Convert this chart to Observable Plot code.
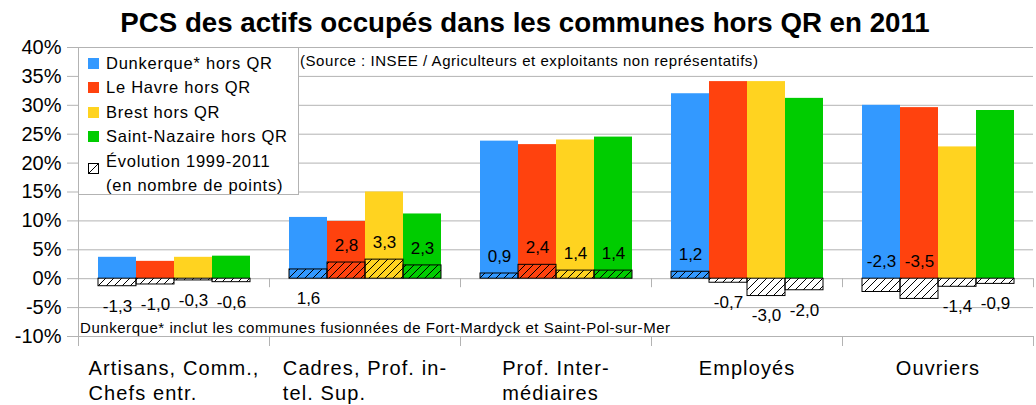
<!DOCTYPE html>
<html><head><meta charset="utf-8">
<script src="https://cdn.jsdelivr.net/npm/d3@7"></script>
<script src="https://cdn.jsdelivr.net/npm/@observablehq/plot@0.6"></script>
<style>
body{margin:0;background:#fff;font-family:"Liberation Sans",Arial,sans-serif;}
#wrap{position:relative;width:1036px;height:405px;overflow:hidden;}
#legend{position:absolute;left:78px;top:47px;width:221px;height:148px;background:#fff;border:1px solid #b3b3b3;box-sizing:border-box;font-size:16.5px;letter-spacing:0.75px;color:#000;}
#legend .row{position:absolute;left:0;height:24px;line-height:24px;white-space:nowrap;}
#legend .sw{position:absolute;left:9px;top:7px;width:11px;height:11px;}
#legend .lb{position:absolute;left:27px;top:0;}
</style>
</head><body>
<svg width="0" height="0" style="position:absolute">
  <defs>
    <pattern id="hatch" patternUnits="userSpaceOnUse" width="8" height="8">
      <path d="M-2,2 L2,-2 M0,8 L8,0 M6,10 L10,6" stroke="#000" stroke-width="1"/>
    </pattern>
  </defs>
</svg>
<div id="wrap"><div id="legend"></div></div>
<script>
// ---- data ----
const categories = ["Artisans, Comm., Chefs entr.", "Cadres, Prof. intel. Sup.", "Prof. Intermédiaires", "Employés", "Ouvriers"];
const categoryLines = [["Artisans, Comm.,", "Chefs entr."], ["Cadres, Prof. in-", "tel. Sup."], ["Prof. Inter-", "médiaires"], ["Employés"], ["Ouvriers"]];
const series = ["Dunkerque* hors QR", "Le Havre hors QR", "Brest hors QR", "Saint-Nazaire hors QR"];
const colors = ["#3399ff", "#ff420e", "#ffd320", "#00cc00"];
// share of employed (%) 2011
const dunkerque    = [3.7, 10.6, 23.8, 32.0, 30.0];
const leHavre      = [3.0,  9.9, 23.2, 34.1, 29.6];
const brest        = [3.7, 15.0, 24.0, 34.1, 22.8];
const saintNazaire = [3.9, 11.2, 24.5, 31.2, 29.1];
// evolution 1999-2011 (points)
const evoDunkerque    = [-1.3, 1.6, 0.9,  1.2, -2.3];
const evoLeHavre      = [-1.0, 2.8, 2.4, -0.7, -3.5];
const evoBrest        = [-0.3, 3.3, 1.4, -3.0, -1.4];
const evoSaintNazaire = [-0.6, 2.3, 1.4, -2.0, -0.9];
// labels drawn on the opposite side of the axis (as in the source chart)
const labelOpposite = [["Cadres, Prof. intel. Sup.", "Dunkerque* hors QR"], ["Ouvriers", "Dunkerque* hors QR"], ["Ouvriers", "Le Havre hors QR"]];
const yTicks = [-10, -5, 0, 5, 10, 15, 20, 25, 30, 35, 40];
const title = "PCS des actifs occupés dans les communes hors QR en 2011";
const source = "(Source : INSEE / Agriculteurs et exploitants non représentatifs)";
const footnote = "Dunkerque* inclut les communes fusionnées de Fort-Mardyck et Saint-Pol-sur-Mer";
const legendExtra = ["Évolution 1999-2011", "(en nombre de points)"];

// ---- table ----
const values = [dunkerque, leHavre, brest, saintNazaire];
const evos = [evoDunkerque, evoLeHavre, evoBrest, evoSaintNazaire];
const rows = [];
categories.forEach((c, i) => series.forEach((s, j) => {
  const flip = labelOpposite.some(([a, b]) => a === c && b === s);
  rows.push({cat: c, series: s, value: values[j][i], evo: evos[j][i], flip});
}));
const fmt = v => v.toFixed(1).replace(".", ",");
const isAbove = d => (d.evo > 0) !== d.flip;

const catLS = 1.1;
const ctx = document.createElement("canvas").getContext("2d");
ctx.font = "20px 'Liberation Sans'";
const labelMarks = categories.map((c, i) => {
  const w = d3.max(categoryLines[i], t => ctx.measureText(t).width + t.length * catLS);
  return Plot.text([c], {fx: d => d, text: () => categoryLines[i].join("\n"), frameAnchor: "bottom",
    textAnchor: "start", lineAnchor: "top", dx: -w / 2, dy: 21, fontSize: 20, lineHeight: 1.25, fill: "#000",
    className: "catlab"});
});

const plot = Plot.plot({
  width: 1036, height: 405,
  marginLeft: 78, marginRight: 3, marginTop: 47, marginBottom: 69,
  style: {fontFamily: "'Liberation Sans', Arial, sans-serif", fontSize: "17px", background: "transparent", overflow: "visible"},
  fx: {domain: categories, padding: 0, axis: null},
  x: {domain: series, paddingInner: 0, paddingOuter: 0.5, axis: null},
  y: {domain: [-10, 40], axis: null},
  color: {domain: series, range: colors},
  marks: [
    Plot.gridY(yTicks, {stroke: "#b3b3b3", strokeOpacity: 1}),
    Plot.axisY(yTicks, {tickSize: 11, text: null, stroke: "#b3b3b3", strokeOpacity: 1}),
    Plot.axisY(yTicks, {tickSize: 0, tickPadding: 17, tickFormat: d => d + "%", fontSize: 20, fill: "#000"}),
    Plot.barY(rows, {fx: "cat", x: "series", y: "value", fill: "series"}),
    Plot.barY(rows.filter(d => d.evo < 0), {fx: "cat", x: "series", y: "evo", fill: "white"}),
    Plot.barY(rows, {fx: "cat", x: "series", y: "evo", fill: "url(#hatch)", stroke: "#000", strokeWidth: 1}),
    Plot.text(rows.filter(isAbove), {fx: "cat", x: "series", y: d => d.flip ? 0 : d.evo, text: d => fmt(d.evo), dy: -17, fontSize: 17, fill: "#000"}),
    Plot.text(rows.filter(d => !isAbove(d)), {fx: "cat", x: "series", y: d => d.flip ? 0 : d.evo, text: d => fmt(d.evo), dy: 20, fontSize: 17, fill: "#000"}),
    ...labelMarks
  ]
});

const svg = d3.select(plot);
svg.selectAll(".catlab text").attr("letter-spacing", catLS);
svg.selectAll("g.catlab").attr("letter-spacing", catLS);
const fxS = plot.scale("fx"), yS = plot.scale("y");
const y0 = yS.apply(0), yBot = yS.apply(-10), yTop = yS.apply(40);
const bw = fxS.bandwidth;
const bounds = categories.map(c => fxS.apply(c)).concat([fxS.apply(categories[categories.length - 1]) + bw]);
const deco = svg.append("g").attr("stroke", "#b3b3b3").attr("stroke-width", 1);
deco.append("line").attr("x1", bounds[0] + 0.5).attr("x2", bounds[0] + 0.5).attr("y1", yTop).attr("y2", yBot + 10);
bounds.forEach(x => {
  deco.append("line").attr("x1", x + 0.5).attr("x2", x + 0.5).attr("y1", yBot).attr("y2", yBot + 10);
  deco.append("line").attr("x1", x + 0.5).attr("x2", x + 0.5).attr("y1", y0).attr("y2", y0 + 9);
});
svg.append("text").text(title).attr("x", 525).attr("y", 22).attr("text-anchor", "middle")
  .attr("dominant-baseline", "central").attr("font-size", 27.7).attr("font-weight", "bold").attr("fill", "#000");
svg.append("text").text(source).attr("x", 300).attr("y", 60).attr("text-anchor", "start").attr("dominant-baseline", "central")
  .attr("font-size", 15).attr("letter-spacing", "0.55").attr("fill", "#000");
svg.append("text").text(footnote).attr("x", 80).attr("y", 327).attr("text-anchor", "start").attr("dominant-baseline", "central")
  .attr("font-size", 15).attr("letter-spacing", "0.55").attr("fill", "#000");

document.getElementById("wrap").prepend(plot);

// legend
const legend = d3.select("#legend");
const rowH = 24.4, top0 = 3;
series.forEach((s, j) => {
  const r = legend.append("div").attr("class", "row").style("top", (top0 + j * rowH) + "px");
  r.append("div").attr("class", "sw").style("background", colors[j]);
  r.append("div").attr("class", "lb").text(s);
});
const r5 = legend.append("div").attr("class", "row").style("top", (top0 + 4 * rowH) + "px");
r5.append("div").attr("class", "sw").html('<svg width="11" height="11"><rect x="0.5" y="0.5" width="10" height="10" fill="white" stroke="#000"/><path d="M1,10 L10,1" stroke="#000"/></svg>');
r5.append("div").attr("class", "lb").text(legendExtra[0]);
const r6 = legend.append("div").attr("class", "row").style("top", (top0 + 5 * rowH) + "px");
r6.append("div").attr("class", "lb").text(legendExtra[1]);
</script>
</body></html>
